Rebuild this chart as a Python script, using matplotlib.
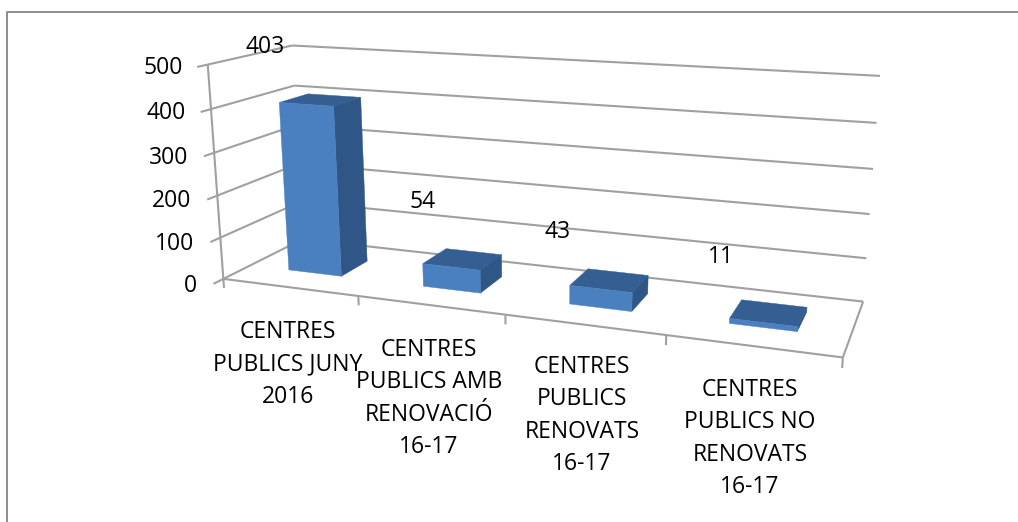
import numpy as np
import matplotlib
matplotlib.use('Agg')
import matplotlib.pyplot as plt
from matplotlib.patches import Polygon

categories = ['CENTRES\nPUBLICS JUNY\n2016',
              'CENTRES\nPUBLICS AMB\nRENOVACIÓ\n16-17',
              'CENTRES\nPUBLICS\nRENOVATS\n16-17',
              'CENTRES\nPUBLICS NO\nRENOVATS\n16-17']
values = [403, 54, 43, 11]
y_ticks = [0, 100, 200, 300, 400, 500]

# where the excel labels ended up, in pixels of the picture
cat_label_x = [288, 429, 582, 750]
cat_label_y = [332, 350, 367, 390]
val_label_xy = [(265, 47), (423, 202), (558, 232), (721, 257)]

GRID = '#a0a0a0'
FRONT = '#4a80c0'
SIDE = '#2f5687'
TOP = '#355f93'
BAR_X = (0.30, 0.70)
BAR_D = (0.32, 0.68)

# corners of the fake 3d box: (category, depth, value) -> pixel
world = [(0, 0, 0), (0, 0, 500), (0, 1, 0), (0, 1, 500),
         (4, 1, 0), (4, 1, 500), (4, 0, 0)]
pixel = [(223, 278), (208, 65), (303, 240), (292, 45),
         (863, 301), (880, 76), (843, 358)]

rows = []
for (X, Y, Z), (u, v) in zip(world, pixel):
    rows.append([X, Y, Z, 1, 0, 0, 0, 0, -u * X, -u * Y, -u * Z, -u])
    rows.append([0, 0, 0, 0, X, Y, Z, 1, -v * X, -v * Y, -v * Z, -v])
# scale the value column so the fit is not dominated by it
A = np.array(rows, dtype=float)
A[:, [2, 6, 10]] *= 1 / 500
_, _, vt = np.linalg.svd(A)
P = vt[-1].reshape(3, 4)
P[:, 2] /= 500


def proj(x, d, z):
    q = P @ np.array([x, d, z, 1.0])
    return q[0] / q[2], q[1] / q[2]


fig = plt.figure(figsize=(10.18, 5.22), dpi=100)
ax = fig.add_axes([0, 0, 1, 1])
ax.set_xlim(0, 1018)
ax.set_ylim(522, 0)
ax.axis('off')
plt.rcParams['font.family'] = ['Open Sans', 'DejaVu Sans']

# outer frame, only top and left are in the picture
ax.plot([7.5, 7.5, 1018], [522, 11.5, 11.5], color='#8c8c8c', lw=1.4)


def line(a, b, lw=1.5):
    p, q = proj(*a), proj(*b)
    ax.plot([p[0], q[0]], [p[1], q[1]], color=GRID, lw=lw, solid_capstyle='butt', zorder=1)


for t in y_ticks:
    line((0, 0, t), (0, 1, t))
    line((0, 1, t), (4, 1, t))
    line((0, 0, t), (0, -0.11, t))
    tx, ty = proj(0, -0.11, t)
    ax.text(tx - 17 + 3 * t / 500, ty + 1 + 1.5 * (500 - t) / 500, str(t), ha='right', va='center',
            fontsize=16.5)

line((0, 0, 0), (0, 0, 500))
line((0, 0, 0), (4, 0, 0))
line((4, 0, 0), (4, 1, 0))
for i in range(5):
    line((i, 0, 0), (i, 0, -22))

for i, v in enumerate(values):
    x0, x1 = i + BAR_X[0], i + BAR_X[1]
    d0, d1 = BAR_D
    faces = [
        ([(x0, d0, v), (x0, d1, v), (x1, d1, v), (x1, d0, v)], TOP),
        ([(x1, d0, 0), (x1, d1, 0), (x1, d1, v), (x1, d0, v)], SIDE),
        ([(x0, d0, 0), (x1, d0, 0), (x1, d0, v), (x0, d0, v)], FRONT),
    ]
    for corners, color in faces:
        ax.add_patch(Polygon([proj(*c) for c in corners], closed=True,
                             facecolor=color, edgecolor=color, lw=0.3, zorder=3))
    ax.text(val_label_xy[i][0], val_label_xy[i][1], str(v), ha='center', va='center',
            fontsize=16.5, zorder=4)

for name, x, y in zip(categories, cat_label_x, cat_label_y):
    for k, part in enumerate(name.split('\n')):
        ax.text(x, y + k * 32.3, part, ha='center', va='center', fontsize=16.5, zorder=4)

fig.savefig('out.png', dpi=100, facecolor='white')
